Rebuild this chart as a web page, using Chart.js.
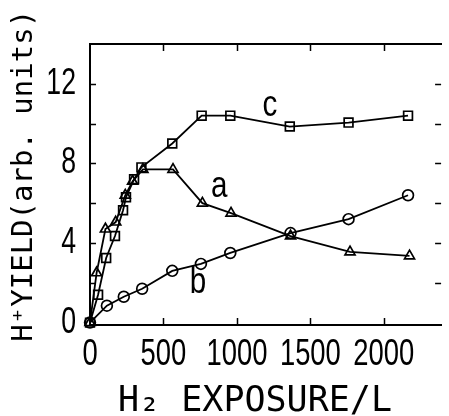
<!DOCTYPE html>
<html>
<head>
<meta charset="utf-8">
<script src="https://cdn.jsdelivr.net/npm/chart.js@4.4.1/dist/chart.umd.min.js"></script>
<style>
html,body{margin:0;padding:0;background:#fff;}
#wrap{width:449px;height:416px;}
</style>
</head>
<body>
<div id="wrap"><canvas id="c" width="449" height="416"></canvas></div>
<script>
// ---- data ----
const aX = [0, 45, 105, 175, 240, 290, 360, 565, 765, 960, 1365, 1770, 2175];
const aY = [0, 2.5, 4.7, 5.05, 6.4, 7.1, 7.7, 7.7, 6.0, 5.5, 4.35, 3.55, 3.35];
const bX = [0, 115, 230, 355, 560, 755, 955, 1365, 1760, 2165];
const bY = [0, 0.85, 1.3, 1.7, 2.6, 2.95, 3.5, 4.5, 5.2, 6.4];
const cX = [0, 55, 110, 170, 225, 245, 300, 350, 560, 760, 955, 1360, 1760, 2165];
const cY = [0, 1.4, 3.25, 4.35, 5.65, 6.3, 7.2, 7.8, 9.0, 10.4, 10.4, 9.85, 10.05, 10.4];
const xTickLabels = [0, 500, 1000, 1500, 2000];
const yTickLabels = [0, 4, 8, 12];
const yMinorTicks = [2, 4, 6, 8, 10, 12];
const xMinorTicks = [500, 1000, 1500, 2000];
const curveNames = ['a', 'b', 'c'];
const curveLabelX = [880, 735, 1225];
const curveLabelY = [6.8, 2.0, 10.9];

const toPts = (xs, ys) => xs.map((x, i) => ({x: x, y: ys[i]}));

const TICK_FONT = '"Liberation Sans", Arial, sans-serif';
const TITLE_FONT = '"DejaVu Sans Mono", monospace';
const TICK_STRETCH = 0.74;

// linear scale whose tick labels are drawn horizontally condensed
class NarrowLinear extends Chart.LinearScale {
  drawLabels(chartArea) {
    const ctx = this.ctx;
    const orig = ctx.fillText;
    ctx.fillText = function (t, x, y, mw) {
      this.save();
      this.translate(x, y);
      this.scale(TICK_STRETCH, 1);
      orig.call(this, t, 0, 0);
      this.restore();
    };
    try { super.drawLabels(chartArea); } finally { ctx.fillText = orig; }
  }
}
NarrowLinear.id = 'narrowLinear';
NarrowLinear.defaults = Chart.LinearScale.defaults;
Chart.register(NarrowLinear);

const bgPlugin = {
  id: 'bg',
  beforeDraw(chart) {
    const ctx = chart.ctx;
    ctx.save();
    ctx.fillStyle = '#fff';
    ctx.fillRect(0, 0, chart.width, chart.height);
    ctx.restore();
  }
};

const decoPlugin = {
  id: 'deco',
  afterDraw(chart) {
    const ctx = chart.ctx;
    const xs = chart.scales.x, ys = chart.scales.y;
    const ca = chart.chartArea;
    ctx.save();
    ctx.strokeStyle = '#000';
    ctx.lineWidth = 1.5;
    ctx.beginPath();
    yMinorTicks.forEach(v => {
      const py = Math.round(ys.getPixelForValue(v)) + 0.5;
      ctx.moveTo(ca.left, py); ctx.lineTo(ca.left + 6, py);
      ctx.moveTo(ca.right - 6, py); ctx.lineTo(ca.right, py);
    });
    xMinorTicks.forEach(v => {
      const px = Math.round(xs.getPixelForValue(v)) + 0.5;
      ctx.moveTo(px, ca.bottom); ctx.lineTo(px, ca.bottom - 7);
      ctx.moveTo(px, ca.top); ctx.lineTo(px, ca.top + 7);
    });
    ctx.stroke();
    ctx.fillStyle = '#000';
    ctx.font = '37px ' + TICK_FONT;
    ctx.textAlign = 'center';
    ctx.textBaseline = 'middle';
    curveNames.forEach((n, i) => {
      ctx.save();
      ctx.translate(xs.getPixelForValue(curveLabelX[i]), ys.getPixelForValue(curveLabelY[i]));
      ctx.scale(0.8, 1);
      ctx.fillText(n, 0, 0);
      ctx.restore();
    });
    ctx.restore();
  }
};

const common = {
  showLine: true,
  borderColor: '#000',
  borderWidth: 1.8,
  pointBorderColor: '#000',
  pointBackgroundColor: 'rgba(255,255,255,0)',
  pointBorderWidth: 1.7,
  clip: false
};

new Chart(document.getElementById('c'), {
  type: 'scatter',
  data: {
    datasets: [
      Object.assign({label: 'a', data: toPts(aX, aY), pointStyle: 'triangle', pointRadius: 5.8}, common),
      Object.assign({label: 'b', data: toPts(bX, bY), pointStyle: 'circle', pointRadius: 5.4}, common),
      Object.assign({label: 'c', data: toPts(cX, cY), pointStyle: 'rect', pointRadius: 6.2}, common)
    ]
  },
  options: {
    responsive: false,
    animation: false,
    events: [],
    layout: {padding: 0},
    plugins: {legend: {display: false}, tooltip: {enabled: false}},
    scales: {
      x: {
        type: 'narrowLinear', position: 'bottom', min: 0, max: 2390,
        afterBuildTicks: s => { s.ticks = xTickLabels.map(v => ({value: v})); },
        afterFit: s => { s.height = 91; },
        grid: {display: false, drawTicks: false},
        border: {display: true, color: '#000', width: 2},
        ticks: {color: '#000', padding: 8, maxRotation: 0, autoSkip: false,
                callback: v => String(v),
                font: {family: TICK_FONT, size: 37}},
        title: {display: true, text: 'H₂ EXPOSURE/L ', color: '#000',
                font: {family: TITLE_FONT, size: 35, lineHeight: 0.8}, padding: {top: 0, bottom: 0}}
      },
      xTop: {
        type: 'linear', position: 'top', min: 0, max: 2390,
        afterFit: s => { s.height = 44; },
        grid: {display: false, drawTicks: false},
        border: {display: true, color: '#000', width: 2},
        ticks: {display: false}
      },
      y: {
        type: 'narrowLinear', position: 'left', min: -0.12, max: 14,
        afterBuildTicks: s => { s.ticks = yTickLabels.map(v => ({value: v})); },
        afterFit: s => { s.width = 90; },
        grid: {display: false, drawTicks: false},
        border: {display: true, color: '#000', width: 2},
        ticks: {color: '#000', padding: 14, autoSkip: false,
                callback: v => String(v),
                font: {family: TICK_FONT, size: 36}},
        title: {display: true, text: ' H⁺YIELD(arb. units)', color: '#000',
                font: {family: TITLE_FONT, size: 29, lineHeight: 1}, padding: {top: 9.5, bottom: 0}}
      }
    }
  },
  plugins: [bgPlugin, decoPlugin]
});
</script>
</body>
</html>
